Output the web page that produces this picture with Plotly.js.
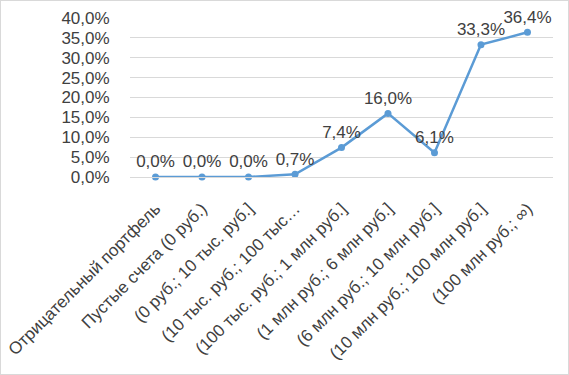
<!DOCTYPE html>
<html>
<head>
<meta charset="utf-8">
<script src="https://cdn.plot.ly/plotly-3.0.1.min.js"></script>
<style>
html,body{margin:0;padding:0;background:#fff;}
#chart{width:567px;height:373px;border:1px solid #d9d9d9;}
</style>
</head>
<body>
<div id="chart"></div>
<script>
var categories = [
  "Отрицательный портфель",
  "Пустые счета (0 руб.)",
  "(0 руб.; 10 тыс. руб.]",
  "(10 тыс. руб.; 100 тыс…",
  "(100 тыс. руб.; 1 млн руб.]",
  "(1 млн руб.; 6 млн руб.]",
  "(6 млн руб.; 10 млн руб.]",
  "(10 млн руб.; 100 млн руб.]",
  "(100 млн руб.; ∞)"
];
var values = [0.0, 0.0, 0.0, 0.007, 0.074, 0.160, 0.061, 0.333, 0.364];
var yTicks = [0, 0.05, 0.10, 0.15, 0.20, 0.25, 0.30, 0.35, 0.40];

var font = "Liberation Sans, Arial, sans-serif";
var trace = {
  x: categories,
  y: values,
  type: 'scatter',
  mode: 'lines+markers+text',
  line: {color: '#5b9bd5', width: 2.5},
  marker: {color: '#5b9bd5', size: 7},
  texttemplate: '%{y:.1%}',
  textposition: 'top center',
  textfont: {family: font, size: 17, color: '#404040'},
  cliponaxis: false,
  hoverinfo: 'none'
};
var layout = {
  width: 567, height: 373,
  margin: {l: 129, r: 15, t: 17, b: 197},
  separators: ', ',
  paper_bgcolor: '#fff',
  plot_bgcolor: '#fff',
  showlegend: false,
  font: {family: font, size: 17, color: '#404040'},
  xaxis: {
    type: 'category',
    tickangle: -45,
    showgrid: false,
    showline: true,
    linecolor: '#d9d9d9',
    linewidth: 1,
    ticks: 'outside',
    ticklen: 14,
    tickcolor: 'rgba(0,0,0,0)',
    tickfont: {family: font, size: 17, color: '#404040'},
    automargin: false
  },
  yaxis: {
    range: [0, 0.4],
    tickvals: yTicks,
    tickformat: '.1%',
    showgrid: true,
    gridcolor: '#d9d9d9',
    gridwidth: 1,
    zeroline: false,
    showline: false,
    ticks: 'outside',
    ticklen: 16,
    tickcolor: 'rgba(0,0,0,0)',
    tickfont: {family: font, size: 17, color: '#404040'},
    automargin: false
  }
};
Plotly.newPlot('chart', [trace], layout, {staticPlot: true, displayModeBar: false});
</script>
</body>
</html>
